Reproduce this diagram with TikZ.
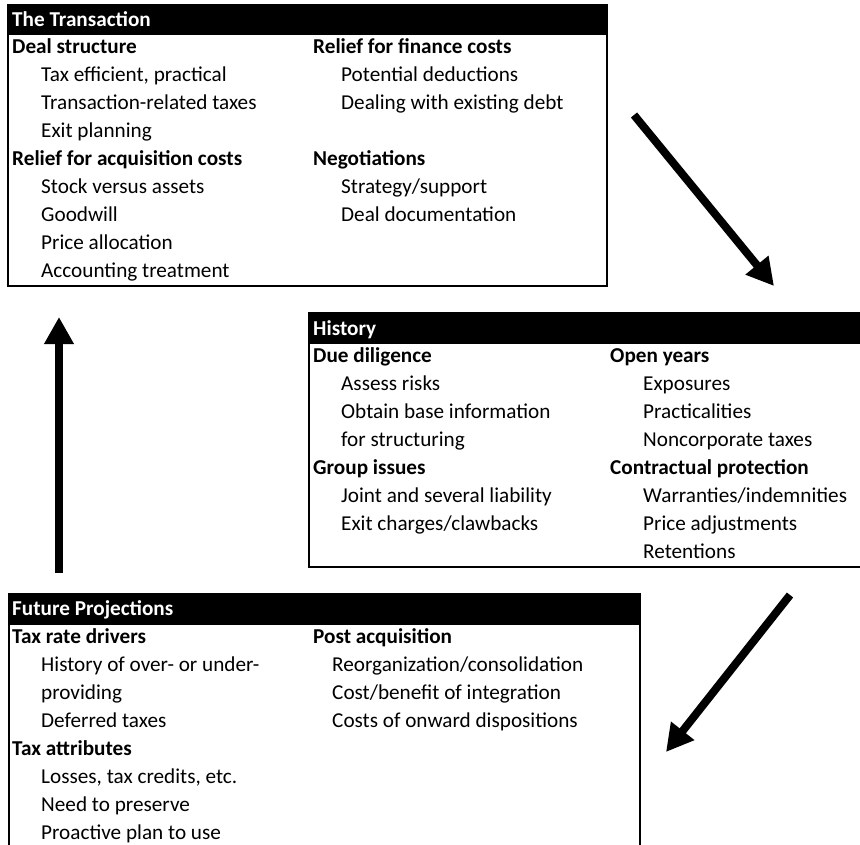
\documentclass[tikz,border=0pt]{standalone}
\usepackage{fontspec}
\setmainfont{Carlito}
\usetikzlibrary{arrows.meta}
\tikzset{
  panel/.style={draw=black, line width=1.6pt, fill=white, inner sep=0pt, anchor=north west},
  titlebar/.style={fill=black, draw=black, line width=1.6pt, inner sep=0pt, anchor=north west},
  titletext/.style={text=white, font=\bfseries\fontsize{21.2}{28}\selectfont, anchor=base west, inner sep=0pt},
  head/.style={font=\bfseries\fontsize{21.2}{28}\selectfont, anchor=base west, inner sep=0pt},
  item/.style={font=\fontsize{21.2}{28}\selectfont, anchor=base west, inner sep=0pt},
  flow/.style={line width=8pt, -{Triangle[width=28pt,length=27pt]}},
}
\begin{document}
\begin{tikzpicture}[x=1pt,y=-1pt]
\useasboundingbox (0,0) rectangle (860,844);
\clip (0,0) rectangle (860,844);

% ---- The Transaction ----
\node[panel, minimum width=599pt, minimum height=281pt] (trans) at (7,4) {};
\node[titlebar, minimum width=599pt, minimum height=29pt] (transbar) at (7,4) {};
\node[titletext] (transtitle) at (12,26) {The Transaction};
\foreach \l/\x/\s/\t in {0/12/head/{Deal structure},
    1/41/item/{Tax efficient, practical},
    2/41/item/{Transaction-related taxes},
    3/41/item/{Exit planning},
    4/12/head/{Relief for acquisition costs},
    5/41/item/{Stock versus assets},
    6/41/item/{Goodwill},
    7/41/item/{Price allocation},
    8/41/item/{Accounting treatment}}
  \node[\s] (ta\l) at (\x,{53.5+28*\l}) {\t};
\foreach \l/\x/\s/\t in {0/313/head/{Relief for finance costs},
    1/341/item/{Potential deductions},
    2/341/item/{Dealing with existing debt},
    4/313/head/{Negotiations},
    5/341/item/{Strategy{/}support},
    6/341/item/{Deal documentation}}
  \node[\s] (tb\l) at (\x,{53.5+28*\l}) {\t};

% ---- History ----
\node[panel, minimum width=572pt, minimum height=254pt] (hist) at (308,312) {};
\node[titlebar, minimum width=572pt, minimum height=30pt] (histbar) at (308,312) {};
\node[titletext] (histtitle) at (313,335) {History};
\foreach \l/\x/\s/\t in {0/313/head/{Due diligence},
    1/341/item/{Assess risks},
    2/341/item/{Obtain base information},
    3/341/item/{for structuring},
    4/313/head/{Group issues},
    5/341/item/{Joint and several liability},
    6/341/item/{Exit charges{/}clawbacks}}
  \node[\s] (ha\l) at (\x,{362.7+27.95*\l}) {\t};
\foreach \l/\x/\s/\t in {0/610/head/{Open years},
    1/643/item/{Exposures},
    2/643/item/{Practicalities},
    3/643/item/{Noncorporate taxes},
    4/610/head/{Contractual protection},
    5/643/item/{Warranties{/}indemnities},
    6/643/item/{Price adjustments},
    7/643/item/{Retentions}}
  \node[\s] (hb\l) at (\x,{362.7+27.95*\l}) {\t};

% ---- Future Projections ----
\node[panel, minimum width=631pt, minimum height=277pt] (fut) at (8,593) {};
\node[titlebar, minimum width=631pt, minimum height=30pt] (futbar) at (8,593) {};
\node[titletext] (futtitle) at (12,615) {Future Projections};
\foreach \l/\x/\s/\t in {0/12/head/{Tax rate drivers},
    1/41/item/{History of over- or under-},
    2/41/item/{providing},
    3/41/item/{Deferred taxes},
    4/12/head/{Tax attributes},
    5/41/item/{Losses, tax credits, etc.},
    6/41/item/{Need to preserve},
    7/41/item/{Proactive plan to use}}
  \node[\s] (fa\l) at (\x,{643+28*\l}) {\t};
\foreach \l/\x/\s/\t in {0/313/head/{Post acquisition},
    1/332/item/{Reorganization{/}consolidation},
    2/332/item/{Cost{/}benefit of integration},
    3/332/item/{Costs of onward dispositions}}
  \node[\s] (fb\l) at (\x,{643+28*\l}) {\t};

% ---- cycle arrows ----
\coordinate (oneA) at (634,115);
\coordinate (oneB) at (774,286);
\coordinate (twoA) at (790,595);
\coordinate (twoB) at (666,752);
\coordinate (threeA) at (59,573);
\coordinate (threeB) at (59,317);
\draw[flow] (oneA) -- (oneB);
\draw[flow] (twoA) -- (twoB);
\draw[flow] (threeA) -- (threeB);
\end{tikzpicture}
\end{document}
